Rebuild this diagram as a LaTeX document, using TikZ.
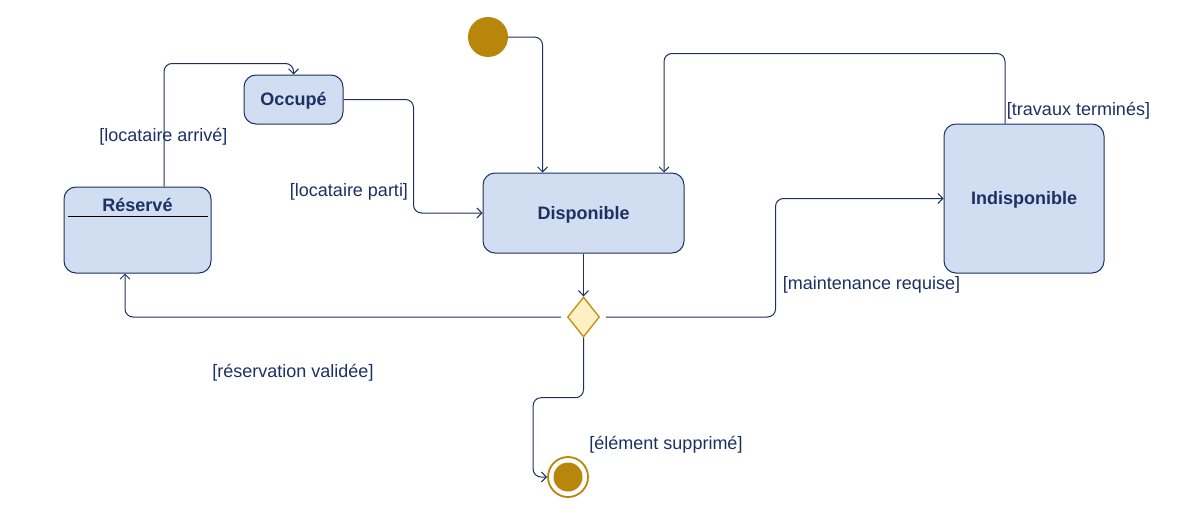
\documentclass[tikz,border=0pt]{standalone}
\usepackage{fontspec}
\setmainfont{Liberation Sans}
\usetikzlibrary{arrows.meta}
\usetikzlibrary{shapes.geometric}
\definecolor{navy}{RGB}{28,48,99}
\definecolor{etat}{RGB}{209,221,240}
\definecolor{ocre}{RGB}{184,134,11}
\definecolor{ocreclair}{RGB}{255,240,196}
\definecolor{ocrebord}{RGB}{196,146,26}

\begin{document}
\begin{tikzpicture}[x=1pt,y=-1pt,
    font=\fontsize{18}{21}\selectfont,
    etatbox/.style={rectangle,rounded corners=12pt,draw=navy,fill=etat,line width=1pt,
      inner sep=0pt,text=navy,font=\fontsize{18}{21}\selectfont\bfseries,text depth=1pt},
    trans/.style={navy,line width=1pt,rounded corners=8pt,-{Straight Barb[length=5pt,width=10pt]}},
    garde/.style={text=navy,inner sep=0pt}]
  \useasboundingbox (0,0) rectangle (1188,530);

  % pseudo-etats
  \node[circle,fill=ocre,minimum size=40pt,inner sep=0pt] (init) at (488,37) {};
  \node[diamond,draw=ocrebord,fill=ocreclair,line width=1.4pt,inner sep=0pt,
    minimum width=32pt,minimum height=40pt] (choix) at (583.5,317) {};
  \node[circle,draw=ocre,line width=1.8pt,minimum size=40pt,inner sep=0pt] (fin) at (568,477) {};
  \node[circle,fill=ocre,minimum size=29pt,inner sep=0pt] at (fin) {};

  % etats
  \node[etatbox,minimum width=201pt,minimum height=80pt] (dispo) at (583.5,213) {Disponible};
  \node[etatbox,minimum width=160pt,minimum height=149pt] (indispo) at (1024,198.5) {Indisponible};
  \node[etatbox,minimum width=99pt,minimum height=49pt] (occupe) at (293.5,99.5) {Occupé};
  \node[etatbox,minimum width=147pt,minimum height=86pt] (reserve) at (137.5,230) {};
  \node[text=navy,font=\fontsize{18}{21}\selectfont\bfseries] (reservetitre) at (137.5,204.5) {Réservé};
  \draw[black,line width=0.8pt] ([xshift=4pt,yshift=-30pt]reserve.north west) -- ([xshift=-4pt,yshift=-30pt]reserve.north east);

  % transitions
  \draw[trans] (init.east) -| ([xshift=60pt]dispo.north west);
  \draw[trans] (occupe.east) -- ++(70,0) |- (dispo.west);
  \draw[trans] ([xshift=26.5pt]reserve.north) -- ++(0,-123) -| (occupe.north);
  \draw[trans] (dispo.south) -- (choix.north);
  \draw[trans,shorten <=6pt] (choix.west) -| ([xshift=-12.5pt]reserve.south);
  \draw[trans,shorten <=6pt] (choix.east) -| ([xshift=-168pt]indispo.west) -- (indispo.west);
  \draw[trans] ([xshift=-19pt]indispo.north) -- ++(0,-70) -| ([xshift=80.5pt]dispo.north);
  \draw[trans] (choix.south) -- ++(0,60) -| ([xshift=-14pt]fin.west) -- (fin.west);

  % gardes
  \node[garde] (g1) at (163.5,137) {[locataire arrivé]};
  \node[garde] (g2) at (349,192) {[locataire parti]};
  \node[garde] (g3) at (1078.5,111) {[travaux terminés]};
  \node[garde] (g4) at (871.5,285) {[maintenance requise]};
  \node[garde] (g5) at (293,373) {[réservation validée]};
  \node[garde] (g6) at (666,445) {[élément supprimé]};
\end{tikzpicture}
\end{document}
